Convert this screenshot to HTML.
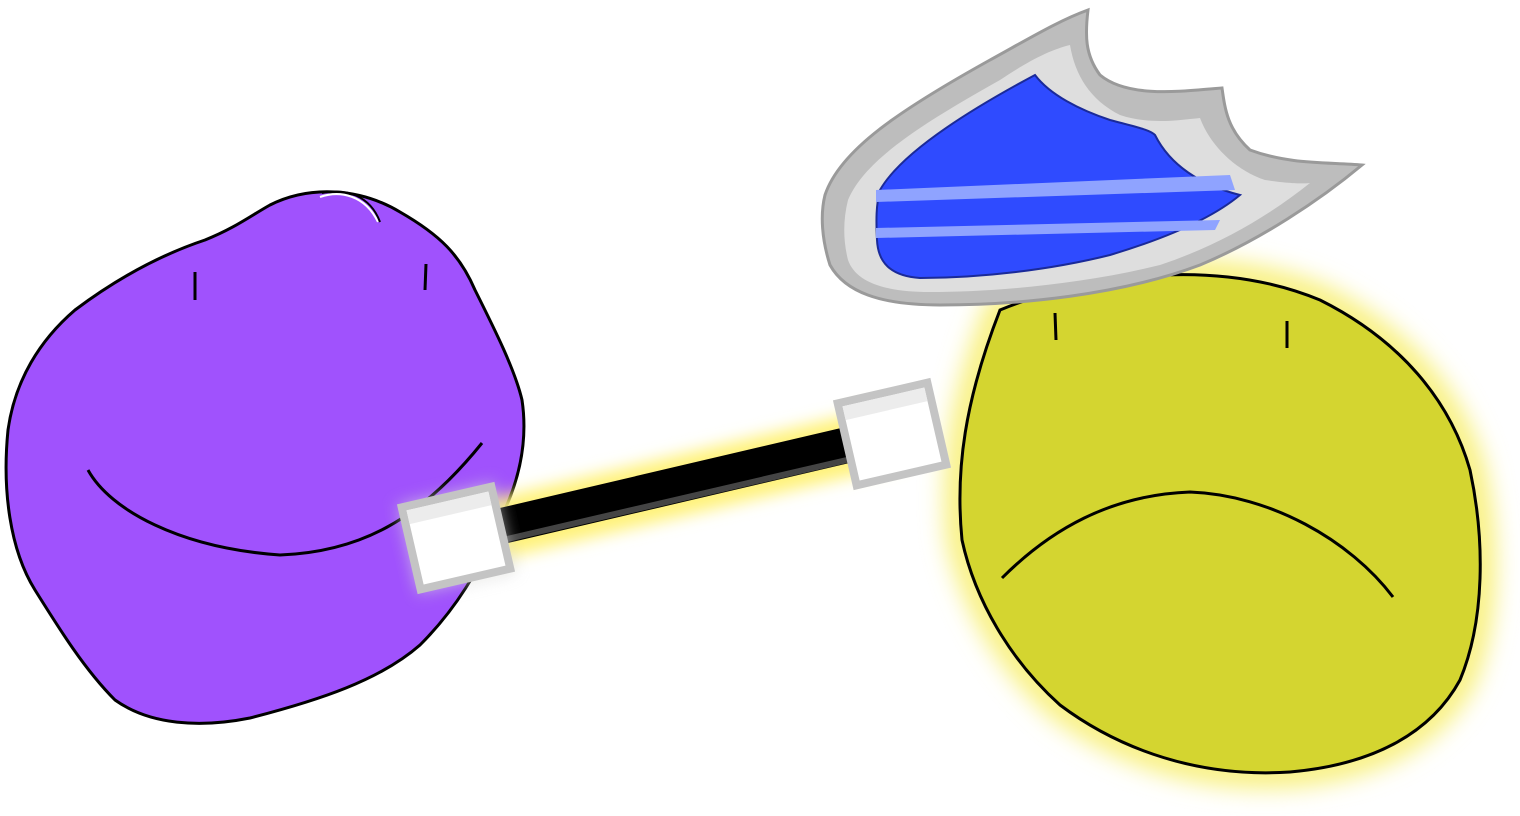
<!DOCTYPE html>
<html><head><meta charset="utf-8"><style>html,body{margin:0;padding:0;background:#fff;}svg{display:block}</style></head>
<body>
<svg width="1520" height="816" viewBox="0 0 1520 816" xmlns="http://www.w3.org/2000/svg">
<defs>
<filter id="glow" x="-20%" y="-20%" width="140%" height="140%"><feGaussianBlur stdDeviation="12"/></filter>
<filter id="glow2" x="-20%" y="-50%" width="140%" height="200%"><feGaussianBlur stdDeviation="8"/></filter>
</defs>
<g>
<path d="M270,205 C310,185 360,188 400,212 C440,235 460,255 475,290 C495,330 515,370 522,400 C528,440 520,480 500,520 C480,570 455,610 420,645 C380,680 320,700 250,718 C200,728 150,725 115,700 C85,670 60,630 35,590 C10,550 2,490 8,430 C15,380 40,340 75,310 C115,280 160,255 205,240 C235,228 252,215 270,205 Z" fill="#a052fd" stroke="#000" stroke-width="3"/>
<path d="M320,197 C340,190 365,195 378,222" fill="none" stroke="#fff" stroke-width="2"/>
<path d="M322,193 C345,188 370,195 380,222" fill="none" stroke="#000" stroke-width="2"/>
<line x1="195" y1="272" x2="195" y2="300" stroke="#000" stroke-width="3"/>
<line x1="426" y1="264" x2="425" y2="290" stroke="#000" stroke-width="3"/>
<path d="M88,470 C110,510 180,548 280,555 C360,552 420,520 482,443" fill="none" stroke="#000" stroke-width="3"/>
</g>
<path d="M1000,310 C1060,285 1200,250 1320,300 C1400,340 1450,400 1470,470 C1485,540 1485,620 1460,680 C1430,735 1370,765 1290,772 C1200,778 1120,750 1060,705 C1010,660 975,600 962,540 C955,470 965,400 1000,310 Z" fill="none" stroke="#f8f07a" stroke-width="30" filter="url(#glow)"/>
<g>
<path d="M1000,310 C1060,285 1200,250 1320,300 C1400,340 1450,400 1470,470 C1485,540 1485,620 1460,680 C1430,735 1370,765 1290,772 C1200,778 1120,750 1060,705 C1010,660 975,600 962,540 C955,470 965,400 1000,310 Z" fill="#d4d530" stroke="#000" stroke-width="3"/>
<line x1="1055" y1="313" x2="1056" y2="340" stroke="#000" stroke-width="3"/>
<line x1="1287" y1="321" x2="1287" y2="348" stroke="#000" stroke-width="3"/>
<path d="M1002,578 C1050,530 1110,495 1190,492 C1270,495 1350,540 1393,597" fill="none" stroke="#000" stroke-width="3"/>
</g>
<g>
<line x1="450" y1="540" x2="895" y2="435" stroke="#fff27a" stroke-width="60" filter="url(#glow2)"/>
<line x1="455" y1="537" x2="890" y2="435" stroke="#000" stroke-width="36"/>
<line x1="460" y1="550" x2="890" y2="450" stroke="#444" stroke-width="6"/>
<g transform="translate(456,538) rotate(-13)">
<rect x="-46" y="-42" width="92" height="84" fill="#fff" stroke="#c8c8c8" stroke-width="8" filter="url(#glow2)" opacity="0.6"/>
<rect x="-46" y="-42" width="92" height="84" fill="#fff" stroke="#c4c4c4" stroke-width="8"/>
<rect x="-42" y="-38" width="84" height="14" fill="#ececec"/>
</g>
<g transform="translate(892,434) rotate(-13)">
<rect x="-46" y="-42" width="92" height="84" fill="#fff" stroke="#c4c4c4" stroke-width="8"/>
<rect x="-42" y="-38" width="84" height="14" fill="#ececec"/>
</g>
</g>
<g>
<path d="M825,195 C840,150 900,110 990,60 C1030,38 1060,20 1088,10 C1085,35 1085,55 1100,75 C1130,100 1190,90 1222,88 C1225,110 1228,130 1250,150 C1290,165 1330,162 1362,165 C1320,200 1260,240 1200,265 C1120,295 1020,305 940,305 C880,305 845,292 830,265 C822,240 820,215 825,195 Z" fill="#bdbdbd" stroke="#9a9a9a" stroke-width="3"/>
<path d="M848,200 C865,160 920,125 1000,80 C1030,60 1050,50 1070,45 C1075,75 1090,100 1120,115 C1150,125 1180,120 1200,118 C1210,145 1235,170 1265,180 C1300,185 1310,183 1310,183 C1270,215 1220,245 1160,265 C1080,285 990,292 930,292 C880,292 855,280 848,260 C843,240 843,220 848,200 Z" fill="#dedede"/>
<path d="M880,190 C900,155 960,115 1035,75 C1050,95 1080,110 1110,120 C1140,128 1150,130 1155,135 C1170,165 1200,185 1240,195 C1210,220 1160,240 1110,255 C1050,270 980,278 920,278 C890,276 878,262 877,240 C876,220 876,205 880,190 Z" fill="#2f4bff" stroke="#1a2a99" stroke-width="2"/>
<path d="M876,190 L1230,175 L1235,190 L876,202 Z" fill="#8fa3ff"/>
<path d="M876,228 L1220,220 L1215,230 L876,238 Z" fill="#8fa3ff"/>
</g>
</svg>
</body></html>
